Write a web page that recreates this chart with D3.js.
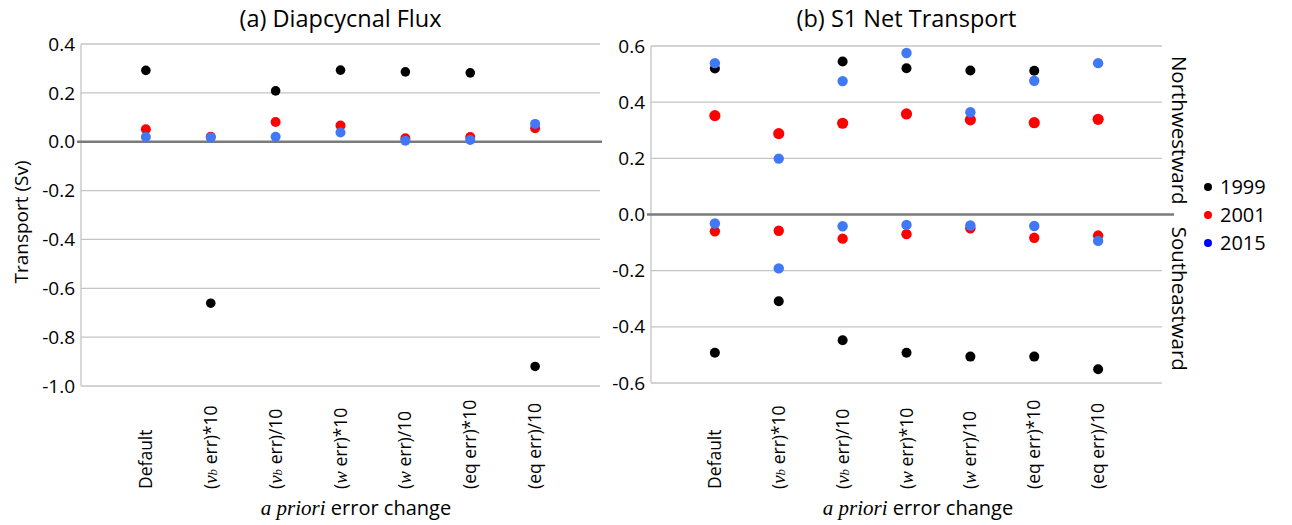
<!DOCTYPE html>
<html><head><meta charset="utf-8">
<script src="https://cdn.jsdelivr.net/npm/d3@7"></script>
<style>
html,body{margin:0;padding:0;background:#fff;}
text{font-family:"Open Sans","Noto Sans",sans-serif;fill:#000;}
</style></head>
<body><svg id="c" width="1292" height="525"></svg>
<script>
// ---- data ----
const categories = ["Default", "(vb err)*10", "(vb err)/10", "(w err)*10", "(w err)/10", "(eq err)*10", "(eq err)/10"];
const years = ["1999", "2001", "2015"];
const yearColors = ["#000000", "#ff0000", "#4178f5"];
const legendColors = ["#000000", "#ff0000", "#0000ff"];

// (a) Diapycnal flux (Sv)
const flux1999 = [0.292, -0.661, 0.208, 0.293, 0.286, 0.282, -0.920];
const flux2001 = [0.051, 0.020, 0.081, 0.066, 0.014, 0.019, 0.055];
const flux2015 = [0.019, 0.017, 0.020, 0.038, 0.004, 0.007, 0.073];

// (b) S1 net transport (Sv), northwestward and southeastward parts
const nw1999 = [0.520, null, 0.545, 0.521, 0.513, 0.512, null];
const nw2001 = [0.352, 0.288, 0.325, 0.358, 0.337, 0.327, 0.339];
const nw2015 = [0.539, 0.199, 0.475, 0.575, 0.364, 0.476, 0.539];
const se1999 = [-0.492, -0.309, -0.448, -0.492, -0.506, -0.506, -0.551];
const se2001 = [-0.060, -0.058, -0.086, -0.070, -0.049, -0.083, -0.075];
const se2015 = [-0.032, -0.192, -0.042, -0.037, -0.039, -0.041, -0.094];

const ticksA = [0.4, 0.2, 0.0, -0.2, -0.4, -0.6, -0.8, -1.0];
const ticksB = [0.6, 0.4, 0.2, 0.0, -0.2, -0.4, -0.6];

// ---- drawing ----
const svg = d3.select("#c");
const fmt = d => d3.format(".1f")(d).replace("\u2212", "-");

function panel(opts) {
  const g = svg.append("g");
  const x = d3.scaleLinear().domain([0, 8]).range([opts.x0, opts.x1]);
  const y = d3.scaleLinear().domain(opts.domain).range([opts.yb, opts.yt]);

  g.append("g").selectAll("line").data(opts.ticks.filter(t => t !== 0)).join("line")
    .attr("x1", x(0)).attr("x2", x(8))
    .attr("y1", d => y(d)).attr("y2", d => y(d))
    .attr("stroke", "#c4c4c4").attr("stroke-width", 1.3);
  g.append("line").attr("x1", x(0)).attr("x2", x(0))
    .attr("y1", y(opts.domain[1])).attr("y2", y(opts.domain[0]))
    .attr("stroke", "#c4c4c4").attr("stroke-width", 1.3);
  g.append("line").attr("x1", x(0) - 4).attr("x2", x(8) + opts.zeroExt)
    .attr("y1", y(0)).attr("y2", y(0))
    .attr("stroke", "#7a7a7a").attr("stroke-width", 2.4);

  g.append("g").selectAll("text").data(opts.ticks).join("text")
    .attr("x", x(0) - 6).attr("y", d => y(d))
    .attr("dy", "0.35em").attr("text-anchor", "end")
    .style("font-size", "19px")
    .text(fmt);

  g.append("text").attr("x", (x(0) + x(8)) / 2).attr("y", 27)
    .attr("text-anchor", "middle").style("font-size", "23.5px").text(opts.title);

  const lab = g.append("g").selectAll("text").data(categories).join("text")
    .attr("transform", (d, i) => `translate(${x(i + 1) + 6},489) rotate(-90)`)
    .attr("text-anchor", "start").style("font-size", "17.5px");
  lab.each(function(d) {
    const t = d3.select(this);
    const m = d.match(/^\((vb|w|eq) (err\).*)$/);
    if (!m) { t.text(d); return; }
    t.append("tspan").text("(");
    if (m[1] === "vb") {
      t.append("tspan").style("font-family", "'Liberation Serif',serif").style("font-style", "italic").style("font-size", "19px").text("ν");
      t.append("tspan").style("font-family", "'Liberation Serif',serif").style("font-style", "italic").style("font-size", "13px").text("b");
      t.append("tspan").text(" " + m[2]);
    } else if (m[1] === "w") {
      t.append("tspan").style("font-family", "'Liberation Serif',serif").style("font-style", "italic").style("font-size", "19px").text("w");
      t.append("tspan").text(" " + m[2]);
    } else {
      t.append("tspan").text(m[1] + " " + m[2]);
    }
  });

  const xt = g.append("text").attr("x", opts.xtitleX).attr("y", 515)
    .attr("text-anchor", "middle").style("font-size", "20px");
  xt.append("tspan").style("font-family", "'Liberation Serif',serif").style("font-style", "italic").style("font-size", "21px").text("a priori");
  xt.append("tspan").text(" error change");

  opts.series.forEach(s => {
    g.append("g").selectAll("circle")
      .data(s.values.map((v, i) => ({ v, i })).filter(d => d.v !== null))
      .join("circle")
      .attr("cx", d => x(d.i + 1)).attr("cy", d => y(d.v))
      .attr("r", s.r).attr("fill", s.color);
  });
  return { x, y };
}

const pa = panel({
  x0: 81, x1: 600, yt: 44, yb: 386, domain: [-1.0, 0.4], ticks: ticksA,
  title: "(a) Diapcycnal Flux", zeroExt: 2, xtitleX: 356,
  series: [
    { values: flux1999, color: yearColors[0], r: 4.8 },
    { values: flux2001, color: yearColors[1], r: 5 },
    { values: flux2015, color: yearColors[2], r: 5 }
  ]
});

const pb = panel({
  x0: 651, x1: 1162, yt: 46, yb: 383, domain: [-0.6, 0.6], ticks: ticksB,
  title: "(b) S1 Net Transport", zeroExt: 12, xtitleX: 918,
  series: [
    { values: nw1999, color: yearColors[0], r: 5 },
    { values: se1999, color: yearColors[0], r: 5 },
    { values: nw2001, color: yearColors[1], r: 5.6 },
    { values: se2001, color: yearColors[1], r: 5.2 },
    { values: nw2015, color: yearColors[2], r: 5.2 },
    { values: se2015, color: yearColors[2], r: 5.2 }
  ]
});

svg.append("text").attr("transform", `translate(28,222) rotate(-90)`)
  .attr("text-anchor", "middle").style("font-size", "19px").text("Transport (Sv)");

svg.append("text").attr("transform", `translate(1172,${pb.y(0.3)}) rotate(90)`)
  .attr("text-anchor", "middle").style("font-size", "20.5px").text("Northwestward");
svg.append("text").attr("transform", `translate(1172,${pb.y(-0.3)}) rotate(90)`)
  .attr("text-anchor", "middle").style("font-size", "20.5px").text("Southeastward");

const leg = svg.append("g").selectAll("g").data(years).join("g")
  .attr("transform", (d, i) => `translate(1208,${187 + i * 28})`);
leg.append("circle").attr("r", 4).attr("fill", (d, i) => legendColors[i]);
leg.append("text").attr("x", 12).attr("dy", "0.35em").style("font-size", "20px").text(d => d);
</script></body></html>
